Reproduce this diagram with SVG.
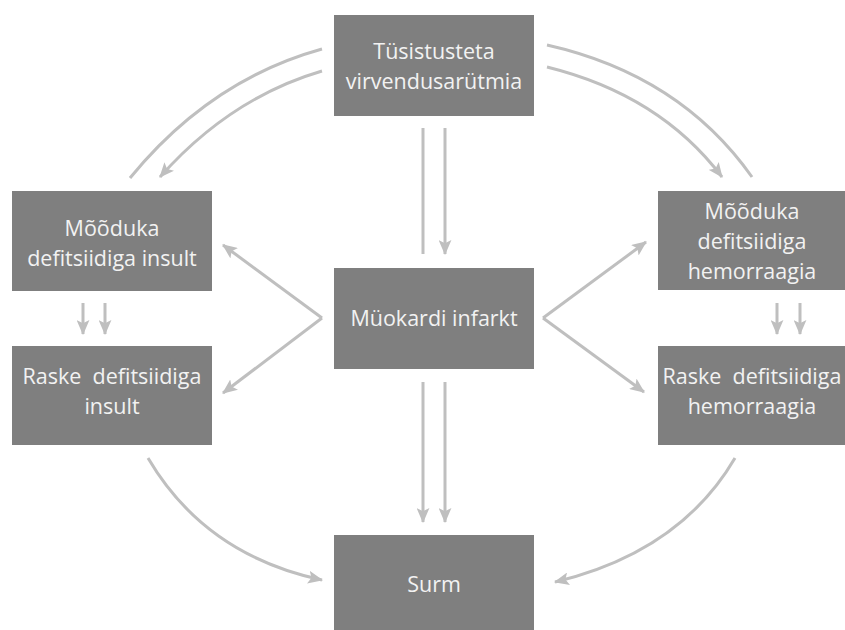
<svg xmlns="http://www.w3.org/2000/svg" width="845" height="630" viewBox="0 0 845 630">
<defs>
<style>
.box{fill:#7f7f7f;}
.t{font-family:"Open Sans","Liberation Sans",sans-serif;font-size:21.5px;fill:#f2f2f2;text-anchor:middle;}
.c{fill:none;stroke:#bfbfbf;stroke-width:3;}
</style>
<marker id="ah" viewBox="0 0 14 12" refX="13" refY="6" markerWidth="15" markerHeight="13" markerUnits="userSpaceOnUse" orient="auto">
<path d="M0,0 L14,6 L0,12 L3,6 Z" fill="#bfbfbf"/>
</marker>
</defs>
<rect width="845" height="630" fill="#ffffff"/>
<g id="connectors">
<path class="c" d="M322,49 Q210,80 130,178"/>
<path class="c" d="M322,71 Q230,98 160,177" marker-end="url(#ah)"/>
<path class="c" d="M547,45 Q680,75 752,177"/>
<path class="c" d="M547,67 Q660,95 722,177" marker-end="url(#ah)"/>
<path class="c" d="M423,128 L423,254"/>
<path class="c" d="M445,128 L445,254" marker-end="url(#ah)"/>
<path class="c" d="M423,382 L423,522" marker-end="url(#ah)"/>
<path class="c" d="M445,382 L445,522" marker-end="url(#ah)"/>
<path class="c" d="M322,318 L223,245" marker-end="url(#ah)"/>
<path class="c" d="M322,318 L223,393" marker-end="url(#ah)"/>
<path class="c" d="M543,318 L646,242" marker-end="url(#ah)"/>
<path class="c" d="M543,318 L644,392" marker-end="url(#ah)"/>
<path class="c" d="M83,303 L83,334" marker-end="url(#ah)"/>
<path class="c" d="M105,303 L105,334" marker-end="url(#ah)"/>
<path class="c" d="M777,303 L777,334" marker-end="url(#ah)"/>
<path class="c" d="M800,303 L800,334" marker-end="url(#ah)"/>
<path class="c" d="M148,458 Q205,555 322,580" marker-end="url(#ah)"/>
<path class="c" d="M735,458 Q680,552 555,582" marker-end="url(#ah)"/>
</g>
<g id="n-top">
<rect class="box" x="334" y="15" width="200" height="101"/>
<text class="t" x="434" y="59">Tüsistusteta</text>
<text class="t" x="434" y="89">virvendusarütmia</text>
</g>
<g id="n-left-mod">
<rect class="box" x="12" y="191" width="200" height="100"/>
<text class="t" x="112" y="236">Mõõduka</text>
<text class="t" x="112" y="266">defitsiidiga insult</text>
</g>
<g id="n-left-sev">
<rect class="box" x="12" y="346" width="200" height="99"/>
<text class="t" x="112" y="384" xml:space="preserve">Raske  defitsiidiga</text>
<text class="t" x="112" y="414">insult</text>
</g>
<g id="n-mid">
<rect class="box" x="334" y="268" width="200" height="101"/>
<text class="t" x="434" y="326">Müokardi infarkt</text>
</g>
<g id="n-right-mod">
<rect class="box" x="658" y="191" width="195" height="99"/>
<text class="t" x="752" y="219">Mõõduka</text>
<text class="t" x="752" y="249">defitsiidiga</text>
<text class="t" x="752" y="279">hemorraagia</text>
</g>
<g id="n-right-sev">
<rect class="box" x="658" y="346" width="195" height="99"/>
<text class="t" x="752" y="384" xml:space="preserve">Raske  defitsiidiga</text>
<text class="t" x="752" y="414">hemorraagia</text>
</g>
<g id="n-surm">
<rect class="box" x="334" y="535" width="200" height="100"/>
<text class="t" x="434" y="592">Surm</text>
</g>
</svg>
